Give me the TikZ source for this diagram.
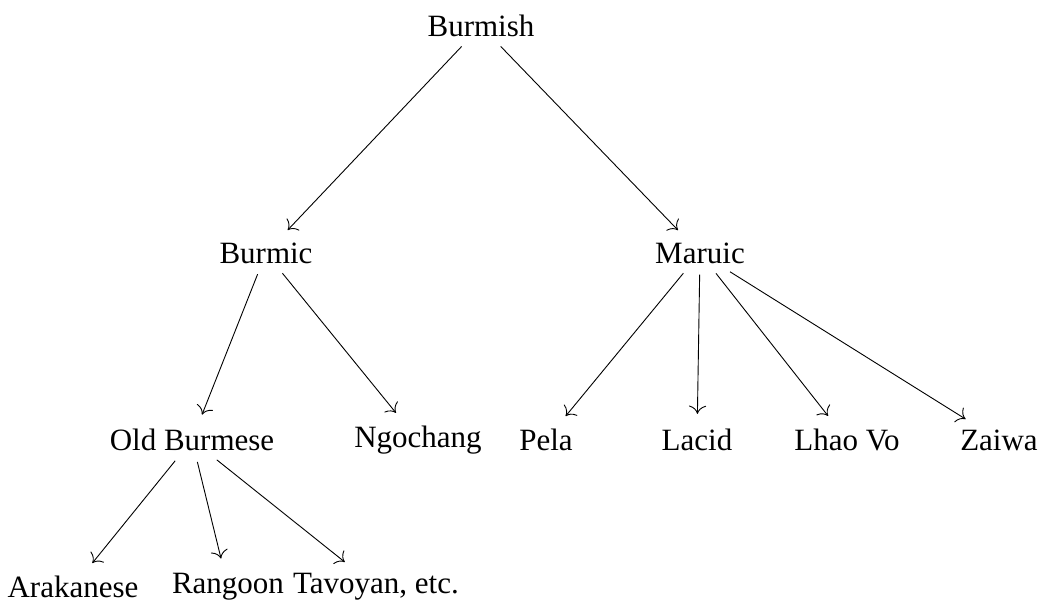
\documentclass[tikz,border=0pt]{standalone}
\usepackage{fontspec}
\setmainfont{Liberation Serif}
\usetikzlibrary{arrows.meta}
\begin{document}
\begin{tikzpicture}[x=1pt,y=-1pt,
  lang/.style={inner sep=5pt, font=\fontsize{31}{37}\selectfont},
  edge/.style={-{To[scale=2.3]}, line width=0.9pt, shorten >=10pt, shorten <=6pt}]
\useasboundingbox (0,0) rectangle (1039,605);
% tree levels
\node[lang] (burmish) at (481,26) {Burmish};
\node[lang] (burmic) at (266,253) {Burmic};
\node[lang] (maruic) at (700,253) {Maruic};
\node[lang] (oldb) at (192,440) {Old Burmese};
\node[lang] (ngo) at (418,440) {Ngochang};
\node[lang] (pela) at (546,440) {Pela};
\node[lang] (lacid) at (697,440) {Lacid};
\node[lang] (lhao) at (847,440) {Lhao Vo};
\node[lang] (zaiwa) at (999,440) {Zaiwa};
\node[lang] (arak) at (73,587) {Arakanese};
\node[lang] (rang) at (228,587) {Rangoon};
\node[lang] (tavo) at (376,587) {Tavoyan, etc.};
% branches
\draw[edge] (burmish) -- (burmic);
\draw[edge] (burmish) -- (maruic);
\draw[edge] (burmic) -- (oldb);
\draw[edge] (burmic) -- (ngo);
\draw[edge] (maruic) -- (pela);
\draw[edge] (maruic) -- (lacid);
\draw[edge] (maruic) -- (lhao);
\draw[edge] (maruic) -- (zaiwa);
\draw[edge] (oldb) -- (arak);
\draw[edge] (oldb) -- (rang);
\draw[edge] (oldb) -- (tavo);
\end{tikzpicture}
\end{document}
